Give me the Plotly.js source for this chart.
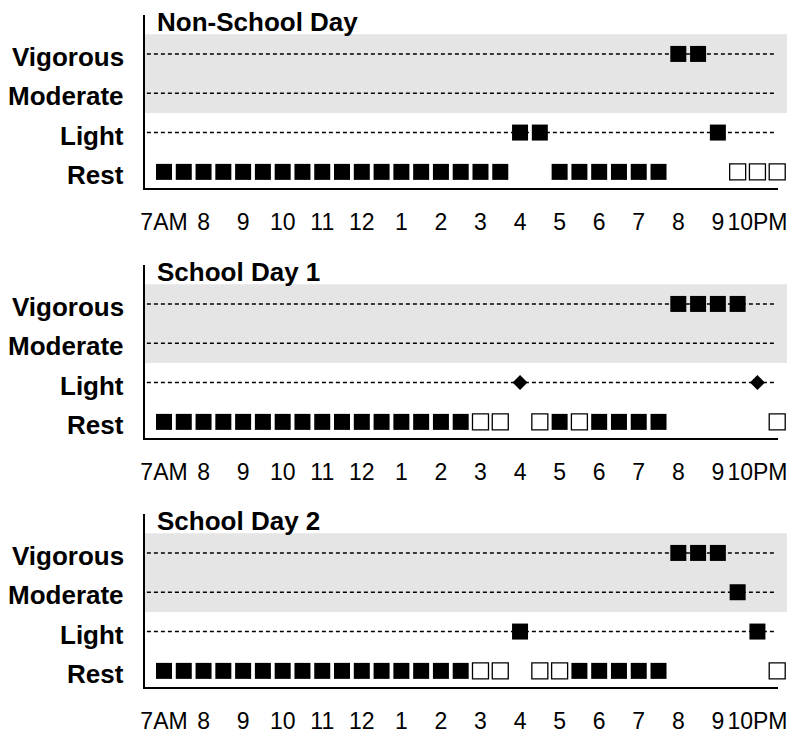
<!DOCTYPE html>
<html>
<head>
<meta charset="utf-8">
<script src="https://cdn.plot.ly/plotly-3.0.1.min.js"></script>
<style>html,body{margin:0;padding:0;background:#fff;}#chart{width:787px;height:734px;}</style>
</head>
<body>
<div id="chart"></div>
<script>
// Half-hour time slots (hours of day)
const slotHours = [7,7.5,8,8.5,9,9.5,10,10.5,11,11.5,12,12.5,13,13.5,14,14.5,15,15.5,16,16.5,17,17.5,18,18.5,19,19.5,20,20.5,21,21.5,22,22.5];
const hourTicks = [7,8,9,10,11,12,13,14,15,16,17,18,19,20,21,22];
const hourLabels = ['7AM','8','9','10','11','12','1','2','3','4','5','6','7','8','9','10PM'];
const levelValues = [0,1,2,3];
const levelNames = ['Rest','Light','Moderate','Vigorous'];
const panelTitles = ['Non-School Day','School Day 1','School Day 2'];

// Activity level per slot: 0 Rest, 1 Light, 2 Moderate, 3 Vigorous
const nonSchoolLevel = [0,0,0,0,0,0,0,0,0,0,0,0,0,0,0,0,0,0, 1,1, 0,0,0,0,0,0, 3,3, 1, 0,0,0];
// Marker style per slot: F filled square, O open square, D diamond
const nonSchoolStyle = ['F','F','F','F','F','F','F','F','F','F','F','F','F','F','F','F','F','F', 'F','F', 'F','F','F','F','F','F', 'F','F', 'F', 'O','O','O'];

const schoolDay1Level = [0,0,0,0,0,0,0,0,0,0,0,0,0,0,0,0, 0,0, 1, 0, 0, 0, 0,0,0,0, 3,3,3,3, 1, 0];
const schoolDay1Style = ['F','F','F','F','F','F','F','F','F','F','F','F','F','F','F','F', 'O','O', 'D', 'O', 'F', 'O', 'F','F','F','F', 'F','F','F','F', 'D', 'O'];

const schoolDay2Level = [0,0,0,0,0,0,0,0,0,0,0,0,0,0,0,0, 0,0, 1, 0,0, 0,0,0,0,0, 3,3,3, 2, 1, 0];
const schoolDay2Style = ['F','F','F','F','F','F','F','F','F','F','F','F','F','F','F','F', 'O','O', 'F', 'O','O', 'F','F','F','F','F', 'F','F','F', 'F', 'F', 'O'];

const panelLevels = [nonSchoolLevel, schoolDay1Level, schoolDay2Level];
const panelStyles = [nonSchoolStyle, schoolDay1Style, schoolDay2Style];

const W = 787, H = 734;
const FONT = 'Arial, "Liberation Sans", Helvetica, sans-serif';
// panel plot-area pixel tops/bottoms
const panelTop = [15, 265, 514];
const panelBottom = [188, 438, 687];
const xDomain = [145 / W, 778 / W];

const data = [];
const layout = {
  width: W, height: H,
  margin: {l: 0, r: 0, t: 0, b: 0, pad: 0},
  paper_bgcolor: '#ffffff',
  plot_bgcolor: 'rgba(0,0,0,0)',
  showlegend: false,
  shapes: [],
  annotations: []
};

for (let p = 0; p < 3; p++) {
  const sfx = p === 0 ? '' : String(p + 1);
  const xa = 'x' + sfx, ya = 'y' + sfx;
  const styles = panelStyles[p];
  data.push({
    type: 'scatter', mode: 'markers',
    x: slotHours, y: panelLevels[p],
    xaxis: xa, yaxis: ya,
    cliponaxis: false,
    hoverinfo: 'skip',
    marker: {
      opacity: 1,
      symbol: styles.map(s => s === 'D' ? 'diamond' : 'square'),
      size: styles.map(s => s === 'D' ? 11.5 : 16),
      color: styles.map(s => s === 'O' ? '#ffffff' : '#000000'),
      line: {color: '#000000', width: styles.map(s => s === 'O' ? 1.3 : 0)}
    }
  });
  const yDom = [1 - panelBottom[p] / H, 1 - panelTop[p] / H];
  layout['xaxis' + sfx] = {
    domain: xDomain, anchor: ya, range: [6.52, 22.52],
    tickmode: 'array', tickvals: hourTicks, ticktext: hourLabels,
    showgrid: false, zeroline: false, ticks: '',
    showline: true, linecolor: '#000', linewidth: 2,
    tickfont: {family: FONT, size: 23, color: '#000'},
    ticklabelstandoff: 12, ticklabeloverflow: 'allow',
    autotickangles: [0], fixedrange: true
  };
  layout['yaxis' + sfx] = {
    domain: yDom, anchor: xa, range: [-0.41, 3.99],
    tickmode: 'array', tickvals: levelValues, showticklabels: false,
    showgrid: false, zeroline: false, ticks: '',
    showline: true, linecolor: '#000', linewidth: 2,
    fixedrange: true
  };
  // level labels, right-aligned left of the axis
  levelValues.forEach((lv, i) => {
    layout.annotations.push({
      text: '<b>' + levelNames[i] + '</b>',
      xref: 'paper', yref: ya, x: 125 / W, y: lv,
      xanchor: 'right', yanchor: 'middle', yshift: -3,
      showarrow: false, borderpad: 0,
      font: {family: FONT, size: 26, color: '#000'}
    });
  });
  // gray band behind Moderate / Vigorous
  layout.shapes.push({
    type: 'rect', layer: 'below', xref: 'paper', yref: ya,
    x0: 145 / W, x1: 1, y0: 1.5, y1: 3.5,
    fillcolor: '#e5e5e5', line: {width: 0}
  });
  // dashed reference lines for Light / Moderate / Vigorous
  [1, 2, 3].forEach(lv => {
    layout.shapes.push({
      type: 'line', layer: 'below', xref: xa + ' domain', yref: ya,
      x0: 0.003, x1: 0.998, y0: lv, y1: lv,
      line: {color: '#000', width: 1.4, dash: '4px,3px'}
    });
  });
  layout.annotations.push({
    text: '<b>' + panelTitles[p] + '</b>',
    xref: 'paper', yref: 'paper',
    x: 155 / W, y: 1 - (panelTop[p] + 7) / H,
    xanchor: 'left', yanchor: 'middle', showarrow: false,
    font: {family: FONT, size: 26, color: '#000'}
  });
}

Plotly.newPlot('chart', data, layout, {staticPlot: true, displayModeBar: false});
</script>
</body>
</html>
